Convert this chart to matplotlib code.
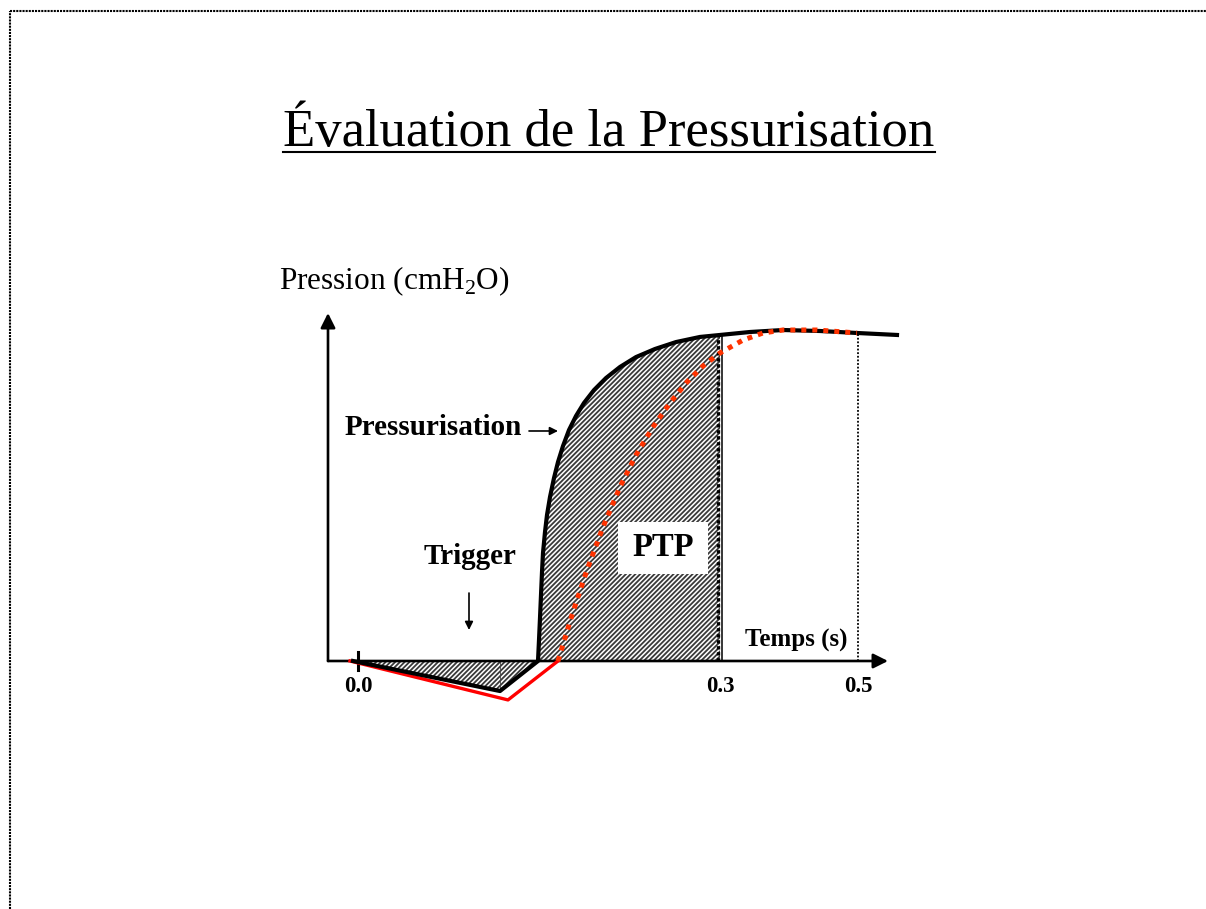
import numpy as np
import matplotlib
matplotlib.use('Agg')
import matplotlib.pyplot as plt
from matplotlib.lines import Line2D
from matplotlib.patches import Rectangle

plt.rcParams['font.family'] = ['Liberation Serif', 'DejaVu Serif']
plt.rcParams['mathtext.fontset'] = 'custom'
plt.rcParams['mathtext.rm'] = 'Liberation Serif'
plt.rcParams['hatch.linewidth'] = 1.3

# courbe de pression du ventilateur (schéma), temps en s, pression en cmH2O
black_t = np.array([-0.005, 0.142, 0.180, 0.181, 0.182, 0.183, 0.184, 0.185, 0.187, 0.189,
                    0.192, 0.196, 0.200, 0.205, 0.211, 0.218, 0.226, 0.236, 0.248, 0.262,
                    0.278, 0.297, 0.318, 0.342, 0.362, 0.392, 0.425, 0.462, 0.499, 0.539])
black_p = np.array([0.0, -1.82, 0.0, 1.27, 2.61, 4.00, 5.39, 6.55, 7.82, 8.85,
                    9.94, 11.09, 12.06, 13.03, 14.00, 14.85, 15.64, 16.42, 17.15, 17.82,
                    18.42, 18.91, 19.33, 19.64, 19.76, 19.94, 20.06, 20.00, 19.88, 19.76])

# pressurisation lente (pointillés rouges)
slow_t = np.array([0.200, 0.214, 0.229, 0.245, 0.262, 0.278, 0.295, 0.312, 0.329, 0.345,
                   0.362, 0.385, 0.405, 0.425, 0.459, 0.499])
slow_p = np.array([0.0, 2.79, 5.52, 8.12, 10.55, 12.48, 14.18, 15.64, 16.91, 17.88,
                   18.67, 19.45, 19.88, 20.06, 20.06, 19.88])

# trigger retardé (rouge)
trig_t = np.array([-0.008, 0.150, 0.200])
trig_p = np.array([0.0, -2.36, 0.0])

ptp_end = 0.362
plateau_end = 0.5
tick_pos = [0.0, 0.362, 0.5]
tick_labels = ['0.0', '0.3', '0.5']

fig = plt.figure(figsize=(12.06, 9.09), dpi=100)
ax = fig.add_axes([300/1206, 189/909, 610/1206, 420/909])
ax.set_xlim(-0.058, 0.552)
ax.set_ylim(-3.576, 21.879)
ax.axis('off')

# zone hachurée (trigger + PTP)
ax.fill_between(black_t, black_p, 0, where=black_t <= ptp_end, facecolor='white',
                edgecolor='#3a3a3a', hatch='///////', linewidth=0, zorder=1)
ax.plot([0.142, 0.142], [0, -1.82], color='#444444', lw=0.6, zorder=2)

# axes avec flèches
arr = dict(arrowstyle='-|>', lw=1.9, color='black', mutation_scale=22, shrinkA=0, shrinkB=0)
ax.annotate('', xy=(0.530, 0), xytext=(-0.030, 0), arrowprops=arr, zorder=3)
ax.annotate('', xy=(-0.030, 21.09), xytext=(-0.030, 0), arrowprops=arr, zorder=3)
ax.plot([0, 0], [0.55, -0.55], color='black', lw=2.2, zorder=3)

# lignes verticales
ax.plot([ptp_end + 0.002] * 2, [0, 19.76], color='black', lw=1.1, zorder=3)
ax.plot([ptp_end - 0.002] * 2, [0, 19.76], color='black', lw=2.4, ls=(0, (1, 0.8)), zorder=3)
ax.plot([plateau_end] * 2, [0, 19.88], color='black', lw=1.3, ls=(0, (1, 1)), zorder=3)

# courbes
ax.plot(trig_t, trig_p, color='#ff0000', lw=2.4, zorder=4)
ax.plot(black_t, black_p, color='black', lw=3.0, solid_joinstyle='round', zorder=5)
ax.plot(slow_t, slow_p, color='#ff3300', lw=3.6, ls=(0, (1, 1.2)),
        dash_capstyle='butt', zorder=6)

# textes
for x, lab in zip(tick_pos, tick_labels):
    ax.text(x, -1.55, lab, ha='center', va='center', fontsize=16.5, fontweight='bold')
ax.text(0.438, 1.27, 'Temps (s)', ha='center', va='center', fontsize=18, fontweight='bold')
ax.text(-0.079, 22.55, r'Pression (cmH$_\mathrm{2}$O)', ha='left', va='baseline',
        fontsize=22.5, clip_on=False)

ax.text(0.164, 14.18, 'Pressurisation', ha='right', va='center', fontsize=21, fontweight='bold')
ax.annotate('', xy=(0.200, 13.94), xytext=(0.171, 13.94),
            arrowprops=dict(arrowstyle='-|>', lw=1.2, color='black', mutation_scale=12,
                            shrinkA=0, shrinkB=0))
ax.text(0.112, 6.36, 'Trigger', ha='center', va='center', fontsize=21, fontweight='bold')
ax.annotate('', xy=(0.111, 1.88), xytext=(0.111, 4.12),
            arrowprops=dict(arrowstyle='-|>', lw=1.2, color='black', mutation_scale=12,
                            shrinkA=0, shrinkB=0))

ax.add_patch(Rectangle((0.260, 5.27), 0.090, 3.15, facecolor='white', edgecolor='none', zorder=7))
ax.text(0.305, 6.85, 'PTP', ha='center', va='center', fontsize=23.5, fontweight='bold', zorder=8)

# titre souligné
title = fig.text(0.505, 1 - 146/909, 'Évaluation de la Pressurisation', ha='center',
                 va='baseline', fontsize=38)
fig.canvas.draw()
bb = title.get_window_extent().transformed(fig.transFigure.inverted())
fig.add_artist(Line2D([bb.x0, bb.x1], [1 - 152/909] * 2, color='black', lw=1.5))

# cadre pointillé
fig.add_artist(Line2D([10/1206, 1], [1 - 11/909] * 2, color='black', lw=1.5, ls=(0, (1, 0.5))))
fig.add_artist(Line2D([10/1206] * 2, [0, 1 - 11/909], color='black', lw=1.5, ls=(0, (1, 0.5))))

fig.savefig('out.png', dpi=100)
